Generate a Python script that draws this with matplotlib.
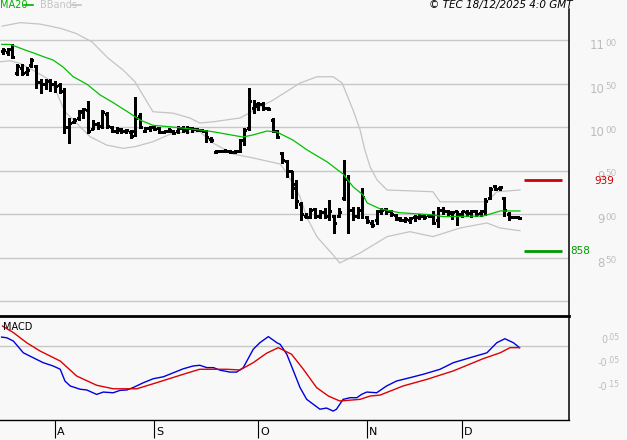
import matplotlib
matplotlib.use("Agg")
import matplotlib.pyplot as plt
import numpy as np

# ---------------- data ----------------
open_ = [1087, 1086, 1090, 1062, 1068, 1063, 1071, 1070, 1052, 1049,
         1053, 1050, 1048, 1043, 1000, 1006, 1010, 1017, 1020, 998,
         1003, 1001, 1015, 1000, 996, 997, 995, 994, 995, 1013,
         995, 999, 1000, 999, 994, 995, 996, 995, 999, 997,
         999, 998, 997, 996, 986, 971, 973, 972, 973, 971,
         972, 985, 999, 1022, 1024, 1026, 1022, 1008, 995, 970,
         961, 950, 935, 912, 898, 897, 906, 898, 902, 898,
         898, 898, 918, 940, 905, 898, 905, 896, 890, 893,
         903, 906, 904, 899, 894, 893, 893, 896, 897, 898,
         899, 898, 893, 905, 903, 901, 903, 900, 902, 901,
         903, 901, 903, 918, 932, 930, 918, 900, 897, 896]
high = [1091, 1091, 1095, 1073, 1073, 1069, 1079, 1071, 1055, 1055,
        1055, 1053, 1051, 1045, 1010, 1010, 1020, 1022, 1030, 1008,
        1006, 1020, 1017, 1001, 1000, 999, 998, 997, 1035, 1016,
        1000, 1001, 1001, 1000, 996, 999, 997, 1001, 1001, 1001,
        1000, 999, 998, 997, 989, 974, 974, 975, 974, 974,
        986, 999, 1045, 1031, 1029, 1029, 1023, 1010, 997, 971,
        962, 950, 939, 914, 901, 907, 907, 905, 907, 916,
        899, 907, 962, 945, 908, 908, 930, 898, 893, 905,
        907, 907, 905, 900, 896, 896, 897, 899, 900, 900,
        900, 903, 908, 908, 905, 904, 904, 904, 905, 905,
        905, 905, 918, 931, 933, 932, 920, 902, 898, 897]
low = [1084, 1083, 1079, 1060, 1060, 1060, 1069, 1045, 1039, 1044,
       1042, 1040, 1039, 993, 982, 1005, 1008, 1010, 993, 998,
       998, 999, 999, 994, 993, 993, 993, 987, 990, 999,
       994, 996, 997, 993, 993, 994, 992, 993, 994, 993,
       994, 995, 995, 983, 983, 970, 971, 971, 970, 970,
       971, 979, 997, 1016, 1020, 1020, 1020, 994, 987, 959,
       943, 918, 907, 893, 895, 895, 895, 895, 895, 893,
       878, 897, 916, 878, 893, 895, 895, 890, 885, 888,
       900, 900, 898, 893, 892, 891, 890, 892, 894, 894,
       896, 888, 885, 900, 898, 894, 887, 897, 898, 897,
       898, 898, 899, 917, 928, 928, 898, 893, 895, 894]
close = [1089, 1090, 1081, 1070, 1062, 1066, 1077, 1052, 1050, 1053,
         1050, 1047, 1042, 1000, 1005, 1008, 1018, 1021, 996, 1004,
         1001, 1017, 1001, 996, 998, 995, 997, 990, 1010, 1000,
         999, 1000, 998, 994, 995, 997, 993, 999, 997, 999,
         998, 997, 996, 988, 985, 973, 972, 973, 971, 972,
         984, 997, 1030, 1027, 1027, 1022, 1021, 995, 989, 962,
         950, 930, 915, 900, 897, 905, 898, 902, 898, 903,
         890, 902, 940, 905, 898, 905, 920, 892, 887, 903,
         905, 903, 900, 895, 893, 894, 895, 897, 898, 896,
         898, 890, 905, 903, 902, 902, 900, 903, 901, 904,
         900, 903, 915, 929, 929, 931, 905, 896, 896, 895]

# moving average / Bollinger bands, read as (bar position, value)
ma_pos = [-0.3, 1.5, 2.5, 4.7, 6.3, 8.5, 10.6, 12.7, 14.8, 17.8, 20.5, 23.3,
          26.2, 29.0, 31.7, 35.9, 41.6, 44.4, 50.7, 52.9, 55.8, 57.9, 61.3,
          64.3, 68.5, 71.9, 74.0, 76.1, 77.0, 79.7, 83.9, 90.9, 93.0, 101.5,
          103.0, 105.1, 109.3]
ma_val = [1095, 1095, 1093, 1088.5, 1085.5, 1081, 1077, 1069, 1058, 1049, 1037,
          1028, 1018, 1008, 1002, 1000, 996.6, 994.6, 988.5, 991, 995.4, 994.3,
          985, 973.6, 960, 946, 931.4, 922, 912.7, 906, 901.5, 899, 897, 897.7,
          900, 903.5, 903.5]

bbu_pos = [-0.2, 3.6, 7.8, 12.1, 15.4, 18.8, 22.2, 25.4, 27.9, 31.7, 35.9,
           39.5, 41.6, 44.4, 50.1, 57.1, 62.8, 66.4, 69.8, 71.7, 74.0, 75.5,
           76.5, 77.6, 79.1, 81.2, 90.9, 92.4, 102.3, 104.4, 109.3]
bbu_val = [1116, 1120, 1118.4, 1113.5, 1107.7, 1098, 1079.3, 1065.5, 1052,
           1017.6, 1016, 1010.4, 1004.6, 1006, 1010.4, 1031, 1050.6, 1057.8,
           1057.8, 1050.6, 1019.6, 996.6, 973.6, 954.4, 939, 927.6, 925.6, 914,
           914, 925.6, 927.6]

bbl_pos = [-0.6, 1.5, 3.6, 6.3, 9.9, 11.4, 13.1, 15.6, 18.4, 21.9, 25.4, 27.9,
           31.7, 35.9, 41.6, 44.4, 48.6, 52.9, 58.6, 60.0, 62.8, 64.3, 66.4,
           69.8, 71.2, 75.5, 81.2, 86.0, 90.9, 96.6, 102.3, 105.1, 109.3]
bbl_val = [1075, 1076.2, 1073.2, 1065.5, 1054, 1038.8, 1017.6, 1004.3, 988.9,
           979.3, 975.5, 977.4, 983.1, 993.1, 994.6, 981.6, 969, 964.4, 957.5,
           947.2, 919.9, 895.4, 873.6, 852.9, 843.7, 855.2, 874, 879.7, 874,
           883.9, 889.7, 883.9, 880.8]

# MACD (blue) and signal (red), read as (bar position, value)
macd_pos = [-0.3, 0.8, 2.2, 4.3, 6.4, 8.5, 10.6, 12.1, 13.1, 14.2, 16.3, 17.7,
            19.8, 21.2, 23.3, 24.7, 26.2, 27.5, 29.7, 31.8, 33.9, 36.0, 38.1,
            40.2, 41.6, 43.1, 44.5, 45.9, 48.0, 49.4, 50.8, 52.9, 54.3, 56.1,
            57.9, 58.6, 60.0, 61.4, 62.8, 64.2, 65.6, 67.0, 68.4, 69.8, 70.5,
            71.9, 73.4, 74.8, 75.8, 76.9, 79.0, 81.1, 83.2, 86.0, 88.9, 92.4,
            95.2, 98.7, 102.3, 104.4, 106.1, 107.9, 109.2]
macd_val = [0.038, 0.035, 0.021, -0.029, -0.050, -0.071, -0.085, -0.099,
            -0.149, -0.170, -0.184, -0.187, -0.206, -0.196, -0.199, -0.189,
            -0.187, -0.177, -0.156, -0.139, -0.131, -0.114, -0.097, -0.085,
            -0.082, -0.092, -0.092, -0.103, -0.111, -0.111, -0.092, -0.014,
            0.014, 0.040, 0.014, 0.007, -0.035, -0.106, -0.177, -0.227, -0.248,
            -0.269, -0.264, -0.277, -0.269, -0.227, -0.220, -0.220, -0.206,
            -0.196, -0.199, -0.170, -0.149, -0.135, -0.120, -0.099, -0.071,
            -0.050, -0.029, 0.014, 0.031, 0.014, -0.007]
sig_pos = [-0.1, 2.2, 5.0, 7.8, 12.1, 15.6, 19.8, 23.3, 28.3, 32.5, 38.8, 41.6,
           47.3, 50.1, 52.9, 55.7, 58.2, 61.0, 63.5, 66.3, 68.8, 71.2, 75.5,
           77.6, 79.7, 84.6, 89.6, 95.2, 101.5, 105.1, 107.2, 109.2]
sig_val = [0.085, 0.057, 0.014, -0.021, -0.064, -0.128, -0.167, -0.182, -0.182,
           -0.156, -0.116, -0.099, -0.099, -0.102, -0.071, -0.031, -0.007,
           -0.035, -0.099, -0.177, -0.213, -0.234, -0.227, -0.213, -0.209,
           -0.170, -0.142, -0.106, -0.054, -0.029, -0.007, -0.007]

resistance = 939
support = 858
price_ticks = [1100, 1050, 1000, 950, 900, 850, 800]
price_labels = {1100: ("11", "00"), 1050: ("10", "50"), 1000: ("10", "00"),
                950: ("9", "50"), 900: ("9", "00"), 850: ("8", "50")}
macd_ticks = [0.05, -0.05, -0.15]
macd_labels = [("0", ".05"), ("-0", ".05"), ("-0", ".15")]
month_pos = [11, 32, 54, 77, 97]
month_names = ["A", "S", "O", "N", "D"]

# ---------------- figure ----------------
W, H = 627, 440
BG = "#f8f8f8"
GRID = "#c8c8c8"
LAB = "#bdbdbd"
fig = plt.figure(figsize=(W / 100, H / 100), dpi=100, facecolor=BG)

def fx(px):
    return px / W

def fy(py):
    return 1 - py / H

ax = fig.add_axes([0, fy(315), fx(569), (315 - 9) / H])
axm = fig.add_axes([0, fy(420), fx(569), (420 - 316) / H])

xlim = (-0.634, 119.66)
for a in (ax, axm):
    a.set_facecolor(BG)
    a.set_xlim(*xlim)
    for s in ("left", "top", "bottom", "right"):
        a.spines[s].set_visible(False)
    a.tick_params(left=False, right=False, labelleft=False, labelbottom=False,
                  bottom=False, top=False)

ax.set_ylim(783.9, 1135.7)
axm.set_ylim(-0.3149, 0.1277)

ax.spines["right"].set_visible(True)
ax.spines["right"].set_linewidth(1.1)
axm.spines["right"].set_visible(True)
axm.spines["right"].set_linewidth(1.1)
axm.spines["top"].set_visible(True)
axm.spines["top"].set_linewidth(2.0)
axm.spines["bottom"].set_visible(True)
axm.spines["bottom"].set_linewidth(1.0)

# gridlines
for t in price_ticks:
    ax.axhline(t, color=GRID, lw=1.0, zorder=1)
axm.axhline(0.0, color=GRID, lw=1.0, zorder=1)

# Bollinger bands and MA20
ax.plot(bbu_pos, bbu_val, color="#c4c4c4", lw=0.9, zorder=2)
ax.plot(bbl_pos, bbl_val, color="#c4c4c4", lw=0.9, zorder=2)
ax.plot(ma_pos, ma_val, color="#00c000", lw=0.9, zorder=4)

# OHLC bars
x = np.arange(len(close))
ax.vlines(x, low, high, color="black", lw=0.75, zorder=3, antialiased=False)
ax.hlines(open_, x - 0.42, x, color="black", lw=0.75, zorder=3, antialiased=False)
ax.hlines(close, x, x + 0.42, color="black", lw=0.75, zorder=3, antialiased=False)

# support / resistance
ax.hlines([resistance], 110.2, 118.2, color="#cc0000", lw=2.0, zorder=3)
ax.hlines([support], 110.2, 118.2, color="#009900", lw=2.0, zorder=3)
ax.annotate(str(resistance), xy=(fx(594), resistance), xycoords=("figure fraction", "data"),
            xytext=(0, -1), textcoords="offset points", ha="left", va="center",
            color="#cc0000", fontsize=7.5, zorder=6, annotation_clip=False)
ax.annotate(str(support), xy=(fx(570), support), xycoords=("figure fraction", "data"),
            xytext=(0, 0), textcoords="offset points", ha="left", va="center",
            color="#009900", fontsize=7.5, zorder=6, annotation_clip=False)

# right-hand labels: big leading digits + small raised trailing digits
def side_label(a, value, big, small, split_px, big_size, small_size):
    a.annotate(big, xy=(fx(split_px), value), xycoords=("figure fraction", "data"),
               xytext=(0, -4), textcoords="offset points", ha="right", va="center",
               color=LAB, fontsize=big_size, annotation_clip=False)
    a.annotate(small, xy=(fx(split_px), value), xycoords=("figure fraction", "data"),
               xytext=(0.3, -2.2), textcoords="offset points", ha="left", va="center",
               color=LAB, fontsize=small_size, annotation_clip=False)

for t, (big, small) in price_labels.items():
    side_label(ax, t, big, small, 605, 8.5, 6.3)

for t, (big, small) in zip(macd_ticks, macd_labels):
    side_label(axm, t, big, small, 607, 7, 5.5)

# MACD lines
axm.plot(macd_pos, macd_val, color="#0000dd", lw=1.0, zorder=3)
axm.plot(sig_pos, sig_val, color="#dd0000", lw=1.0, zorder=3)
axm.text(fx(3) / fx(569), 1 - (327 - 316) / 104, "MACD", transform=axm.transAxes,
         ha="left", va="center", fontsize=7, color="black")

# month ticks
axm.set_xticks(month_pos)
axm.tick_params(axis="x", bottom=True, direction="out", length=13, width=0.8,
                color="black", labelbottom=False)
for p, name in zip(month_pos, month_names):
    axm.annotate(name, xy=(p, fy(432)), xycoords=("data", "figure fraction"),
                 xytext=(1.5, 0), textcoords="offset points", ha="left",
                 va="center", fontsize=8, color="black", annotation_clip=False)

# header
fig.text(fx(0), fy(5), "MA20", color="#00b000", fontsize=7, ha="left", va="center")
fig.add_artist(plt.Line2D([fx(24), fx(33)], [fy(5), fy(5)], color="#00b000", lw=1.2))
fig.text(fx(40), fy(5), "BBands", color="#c4c4c4", fontsize=7, ha="left", va="center")
fig.add_artist(plt.Line2D([fx(72), fx(81)], [fy(5), fy(5)], color="#c4c4c4", lw=1.2))
fig.text(fx(573), fy(5), "\u00a9 TEC 18/12/2025 4:0 GMT", color="black", fontsize=7.5,
         style="italic", ha="right", va="center")

fig.savefig("out.png", dpi=100, facecolor=BG)
